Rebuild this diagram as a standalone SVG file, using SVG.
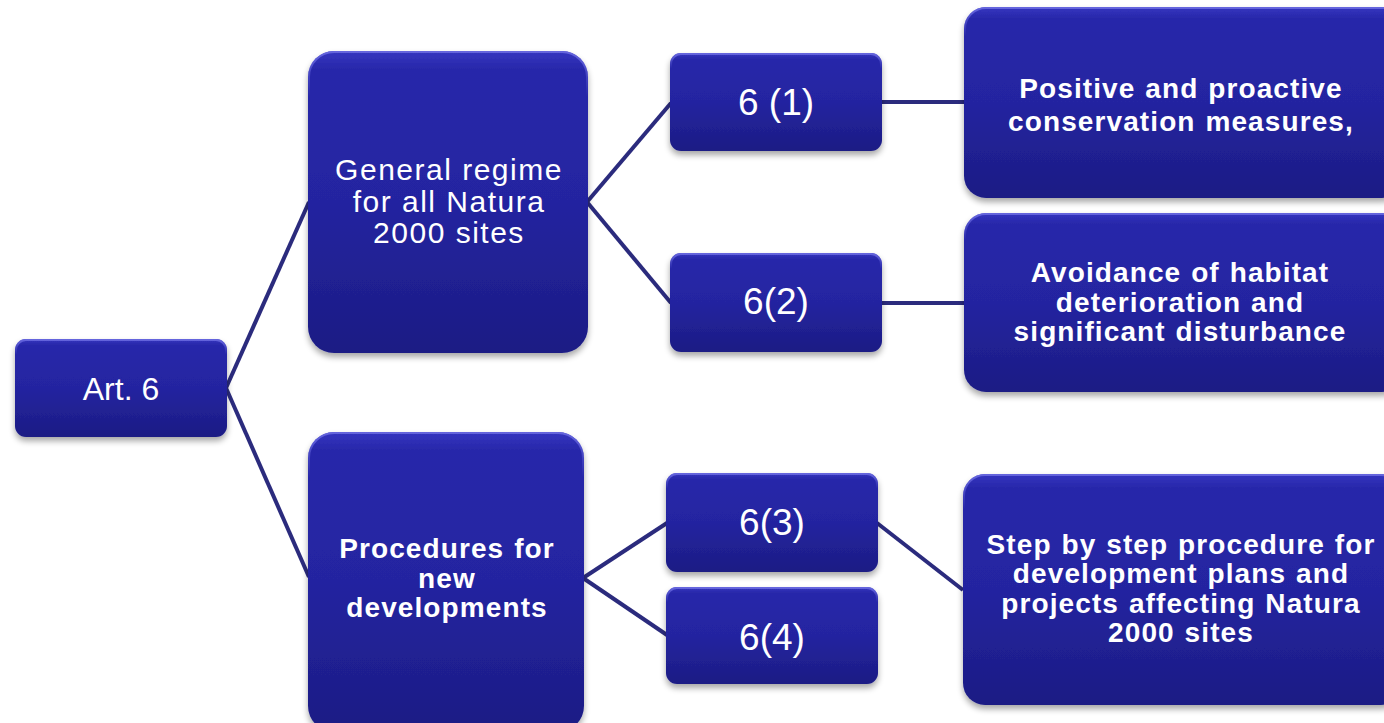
<svg xmlns="http://www.w3.org/2000/svg" width="1384" height="723" viewBox="0 0 1384 723">
<style>
.box{fill:url(#g);filter:url(#sh)}
.hl{fill:none;stroke:url(#hl);stroke-width:2}
.t{font-family:"Liberation Sans",Arial,sans-serif;fill:#fff;text-anchor:middle}
.r{font-size:32px}
.r2{font-size:30px;letter-spacing:1.5px}
.n{font-size:37px}
.b{font-size:28px;font-weight:bold;letter-spacing:1.1px;word-spacing:1px}
.c{fill:none;stroke:#2b2b7d;stroke-width:4}
</style>
<defs>
<linearGradient id="g" x1="0" y1="0" x2="0" y2="1">
<stop offset="0" stop-color="#3535c0"/>
<stop offset="0.06" stop-color="#2828aa"/>
<stop offset="0.5" stop-color="#2424a0"/>
<stop offset="1" stop-color="#1c1c84"/>
</linearGradient>
<linearGradient id="hl" x1="0" y1="0" x2="0" y2="1">
<stop offset="0" stop-color="#6a6ae0" stop-opacity="0.9"/>
<stop offset="0.15" stop-color="#6a6ae0" stop-opacity="0"/>
<stop offset="1" stop-color="#6a6ae0" stop-opacity="0"/>
</linearGradient>
<filter id="sh" x="-10%" y="-10%" width="120%" height="130%">
<feGaussianBlur in="SourceAlpha" stdDeviation="3"/>
<feOffset dx="0" dy="4" result="b"/>
<feComponentTransfer><feFuncA type="linear" slope="0.35"/></feComponentTransfer>
<feMerge><feMergeNode/><feMergeNode in="SourceGraphic"/></feMerge>
</filter>
</defs>
<rect width="1384" height="723" fill="#ffffff"/>
<g id="connectors">
<line class="c" x1="226" y1="388" x2="309" y2="202"/>
<line class="c" x1="226" y1="388" x2="309" y2="577"/>
<line class="c" x1="587" y1="202" x2="671" y2="103"/>
<line class="c" x1="587" y1="202" x2="671" y2="303"/>
<line class="c" x1="583" y1="578" x2="667" y2="523"/>
<line class="c" x1="583" y1="578" x2="667" y2="635"/>
<line class="c" x1="881" y1="102" x2="965" y2="102"/>
<line class="c" x1="881" y1="303" x2="965" y2="303"/>
<line class="c" x1="877" y1="523" x2="963" y2="590"/>
</g>
<g id="art6">
<rect class="box" x="15" y="339" width="212" height="98" rx="11"/>
<rect class="hl" x="16" y="340" width="210" height="96" rx="10"/>
<text class="t r" x="121" y="400">Art. 6</text>
</g>
<g id="general">
<rect class="box" x="308" y="51" width="280" height="302" rx="26"/>
<rect class="hl" x="309" y="52" width="278" height="300" rx="25"/>
<text class="t r2" x="449" y="180">General regime</text>
<text class="t r2" x="449" y="212">for all Natura</text>
<text class="t r2" x="449" y="243">2000 sites</text>
</g>
<g id="procedures">
<rect class="box" x="308" y="432" width="276" height="300" rx="26"/>
<rect class="hl" x="309" y="433" width="274" height="298" rx="25"/>
<text class="t b" x="447" y="558">Procedures for</text>
<text class="t b" x="447" y="588">new</text>
<text class="t b" x="447" y="617">developments</text>
</g>
<g id="n61">
<rect class="box" x="670" y="53" width="212" height="98" rx="11"/>
<rect class="hl" x="671" y="54" width="210" height="96" rx="10"/>
<text class="t n" x="776" y="115">6 (1)</text>
</g>
<g id="n62">
<rect class="box" x="670" y="253" width="212" height="99" rx="11"/>
<rect class="hl" x="671" y="254" width="210" height="97" rx="10"/>
<text class="t n" x="776" y="314">6(2)</text>
</g>
<g id="n63">
<rect class="box" x="666" y="473" width="212" height="99" rx="11"/>
<rect class="hl" x="667" y="474" width="210" height="97" rx="10"/>
<text class="t n" x="772" y="535">6(3)</text>
</g>
<g id="n64">
<rect class="box" x="666" y="587" width="212" height="97" rx="11"/>
<rect class="hl" x="667" y="588" width="210" height="95" rx="10"/>
<text class="t n" x="772" y="650">6(4)</text>
</g>
<g id="positive">
<rect class="box" x="964" y="7" width="440" height="191" rx="22"/>
<rect class="hl" x="965" y="8" width="438" height="189" rx="21"/>
<text class="t b" x="1181" y="98">Positive and proactive</text>
<text class="t b" x="1181" y="131">conservation measures,</text>
</g>
<g id="avoidance">
<rect class="box" x="964" y="213" width="440" height="179" rx="22"/>
<rect class="hl" x="965" y="214" width="438" height="177" rx="21"/>
<text class="t b" x="1180" y="282">Avoidance of habitat</text>
<text class="t b" x="1180" y="312">deterioration and</text>
<text class="t b" x="1180" y="341">significant disturbance</text>
</g>
<g id="step">
<rect class="box" x="963" y="474" width="440" height="231" rx="22"/>
<rect class="hl" x="964" y="475" width="438" height="229" rx="21"/>
<text class="t b" x="1181" y="554">Step by step procedure for</text>
<text class="t b" x="1181" y="583">development plans and</text>
<text class="t b" x="1181" y="613">projects affecting Natura</text>
<text class="t b" x="1181" y="642">2000 sites</text>
</g>
</svg>
